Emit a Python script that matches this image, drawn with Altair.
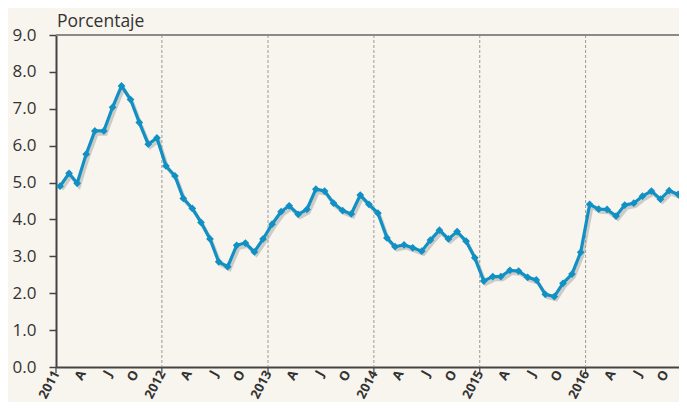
import altair as alt
import pandas as pd

# Monthly values, Jan 2011 - Dec 2016 (percent)
start_year = 2011
values_2011 = [4.90, 5.25, 4.98, 5.77, 6.40, 6.40, 7.04, 7.62, 7.25, 6.63, 6.04, 6.21]
values_2012 = [5.45, 5.18, 4.57, 4.30, 3.92, 3.47, 2.85, 2.72, 3.30, 3.36, 3.12, 3.47]
values_2013 = [3.87, 4.21, 4.37, 4.14, 4.27, 4.82, 4.77, 4.44, 4.24, 4.15, 4.66, 4.41]
values_2014 = [4.17, 3.50, 3.26, 3.31, 3.23, 3.14, 3.44, 3.71, 3.47, 3.67, 3.41, 2.96]
values_2015 = [2.33, 2.45, 2.45, 2.62, 2.60, 2.43, 2.36, 1.97, 1.91, 2.27, 2.52, 3.11]
values_2016 = [4.41, 4.28, 4.27, 4.09, 4.39, 4.44, 4.63, 4.77, 4.55, 4.78, 4.68, 4.24]

all_values = values_2011 + values_2012 + values_2013 + values_2014 + values_2015 + values_2016
years = [2011, 2012, 2013, 2014, 2015, 2016]
y_ticks = [0, 1, 2, 3, 4, 5, 6, 7, 8, 9]
title_text = ["Porcentaje"]

dates = []
for i in range(len(all_values)):
    y = start_year + i // 12
    m = i % 12 + 1
    dates.append(f"{y}-{m:02d}-15")
df = pd.DataFrame({"fecha": dates, "valor": all_values})

grid_df = pd.DataFrame({"fecha": [f"{y}-01-01" for y in years[1:]]})
tick_df = pd.DataFrame({"fecha": [f"{y}-01-01" for y in years]})
title_df = pd.DataFrame({"t": title_text})

W, H = 623, 332
LINE = "#1190c4"
TXT = "#333333"
FONT = "Open Sans"

qvals = [alt.DateTime(year=y, month=m, date=1, utc=True) for y in years for m in [1, 4, 7, 10]]

xscale = alt.Scale(type="utc", domain=[alt.DateTime(year=2011, month=1, date=1, utc=True),
                                       alt.DateTime(year=2016, month=11, date=18, utc=True)])
yscale = alt.Scale(domain=[0, 9], nice=False, zero=True)

label_expr = ("utcmonth(datum.value) == 0 ? utcFormat(datum.value, '%Y') : "
              "(utcmonth(datum.value) == 3 ? 'A' : (utcmonth(datum.value) == 6 ? 'J' : 'O'))")

xaxis = alt.Axis(values=qvals, labelExpr=label_expr, labelAngle=-62, labelFontSize=13,
                 labelFontWeight="bold", labelColor=TXT, labelFont=FONT, ticks=False,
                 grid=False, domainColor="#444444", domainWidth=2, labelPadding=4, title=None,
                 labelOverlap=False, labelBound=False, labelFlush=False)
yaxis = alt.Axis(values=y_ticks, format=".1f", labelFontSize=17, labelColor=TXT,
                 labelFont=FONT, tickSize=7, tickColor="#444444", tickWidth=1.5,
                 domainColor="#444444", domainWidth=2, labelPadding=13, grid=False, title=None,
                 labelOverlap=False)

X = alt.X("fecha:T", scale=xscale, axis=xaxis)
Y = alt.Y("valor:Q", scale=yscale, axis=yaxis)

base = alt.Chart(df)

shadow = base.mark_line(color="#9a9a9a", opacity=0.45, strokeWidth=3.5, xOffset=2, yOffset=3,
                        clip=True).encode(x=X, y=Y)
line = base.mark_line(color=LINE, strokeWidth=3.2, clip=True).encode(x=X, y=Y)
points = base.mark_point(shape="diamond", filled=True, color=LINE, size=60, opacity=1,
                         clip=True).encode(x=X, y=Y)

grid = alt.Chart(grid_df).mark_rule(color="#9a9a9a", strokeDash=[3, 2], strokeWidth=1).encode(
    x=X,
)
ticks = alt.Chart(tick_df).mark_rule(color="#444444", strokeWidth=1.2).encode(
    x=X,
    y=alt.value(H),
    y2=alt.value(H + 6),
)
top = alt.Chart(tick_df).mark_rule(color="#8a8a8a", strokeWidth=1.5).encode(
    y=alt.YDatum(9, scale=yscale, axis=yaxis),
)
title = alt.Chart(title_df).mark_text(align="left", baseline="alphabetic", fontSize=17.5,
                                       color=TXT, font=FONT).encode(
    text="t:N", x=alt.value(1), y=alt.value(-8),
)

chart = alt.layer(grid, ticks, shadow, line, points, top, title).properties(
    width=W, height=H,
    autosize=alt.AutoSizeParams(type="none"),
    padding={"left": 48, "top": 27, "right": 0, "bottom": 35},
    background="#f8f5ee",
).configure_view(fill="white", stroke=None).configure(font=FONT)

chart.save("out.html", embed_options={"renderer": "svg", "actions": False})
